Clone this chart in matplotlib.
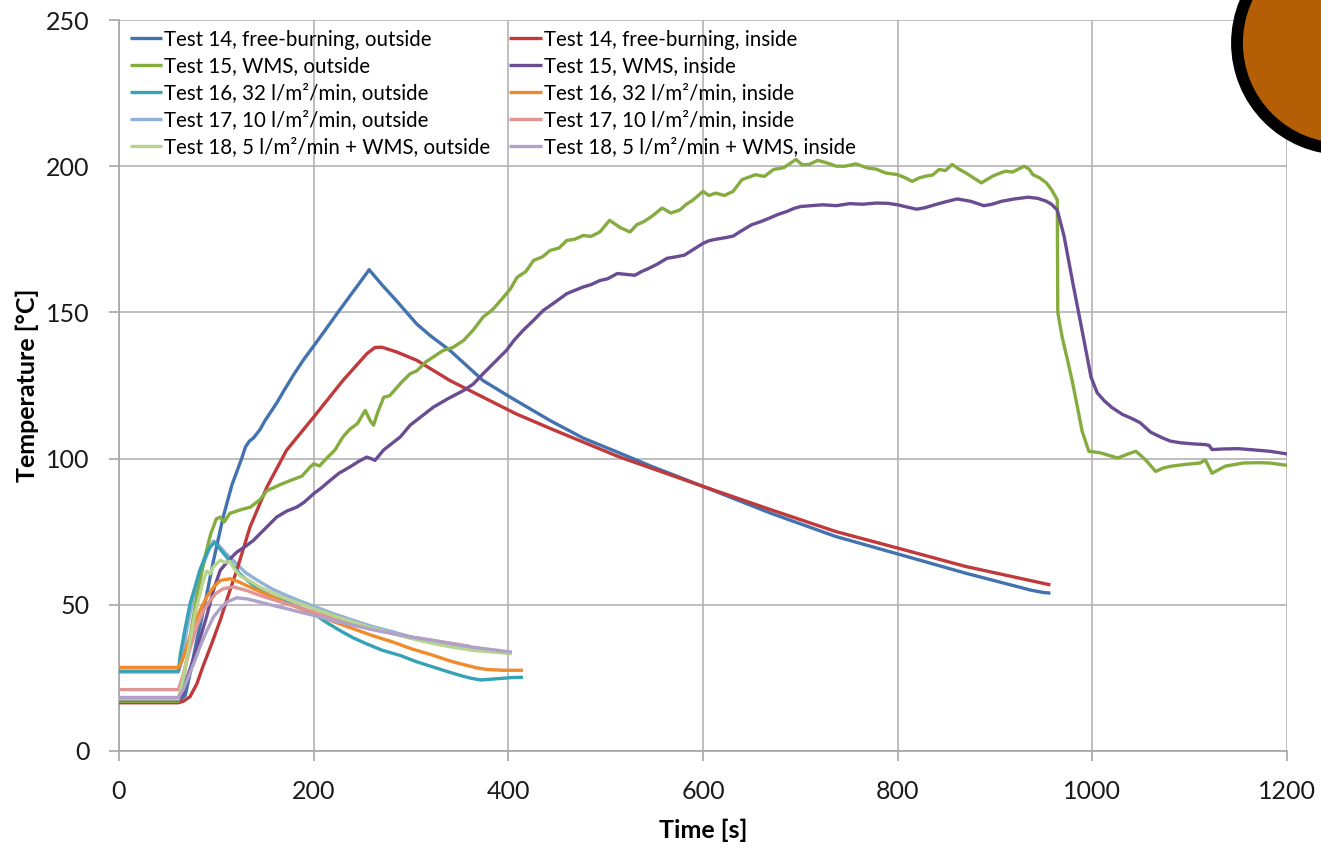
import matplotlib
matplotlib.use("Agg")
import matplotlib.pyplot as plt
from matplotlib.patches import Circle

plt.rcParams["font.family"] = ["Lato", "DejaVu Sans"]

# Test 14, free-burning
t14_out = [0, 61, 68, 74, 80, 88, 97, 107, 116, 126, 130, 134, 138, 145, 150, 162, 169, 180, 190, 200,
           212, 224, 237, 247, 257, 270, 285, 306, 320, 340, 374, 402, 443, 477, 510, 546, 600, 669, 736, 800,
           870, 937, 950, 957]
T14_out = [17, 17, 19, 28, 38, 50, 65, 80, 91, 100, 104, 106, 107, 110, 113, 119, 123, 129, 134, 138.5,
           144, 149.6, 155.5, 160, 164.6, 159.5, 154, 146, 142, 137, 126.7, 121, 113, 107, 102.5, 97.5, 90.5, 81.4, 73.4, 67.4,
           60.8, 55, 54.2, 54]
t14_in = [0, 61, 66, 73, 80, 86, 95, 104, 112, 121, 134.6, 152, 172, 200, 230, 255, 263, 270, 285, 306,
          340, 374, 408, 446, 513, 600, 669, 736, 800, 870, 957]
T14_in = [16.5, 16.5, 17, 18.6, 23, 28.7, 36.5, 44.7, 53, 61.8, 76.6, 90.3, 102.8, 114.2, 126.7, 136, 138, 138.1, 136.5, 133.6,
          126.7, 121, 115.3, 109.9, 100.7, 90.5, 82.6, 75.1, 69.4, 63.1, 56.8]

# Test 15, WMS
t15_out = [0, 61, 65, 70, 75, 80, 88, 94, 100, 104, 108, 114, 125, 135, 145, 152, 165, 176, 188, 196,
           200, 206, 213, 222, 230, 237, 245, 253, 258, 261.5, 266, 272, 278, 290, 299, 306, 315, 333, 343, 354,
           364, 374, 384, 395, 402, 409, 418, 426, 435, 443, 452, 460, 468, 477, 485, 494, 504, 515, 525, 532,
           539, 548, 558, 567, 576, 583, 590, 600, 606, 613, 622, 631, 640, 654, 663, 672.6, 683, 695.5, 702, 709,
           718, 727.7, 737, 746, 757, 769, 778, 787.4, 800, 808, 815, 822, 829, 836, 842.6, 849, 856, 863, 870, 878,
           886, 892, 897.6, 904, 911, 918, 924, 930, 935, 939, 946, 952.8, 958, 962, 964, 964.5, 969, 975, 980, 985,
           989.5, 996.4, 1008, 1018, 1026, 1036, 1044.6, 1050, 1056, 1065, 1073, 1081, 1095, 1111, 1116, 1120, 1123, 1136.5, 1155, 1170,
           1182, 1200]
T15_out = [17, 17, 22, 32, 43, 53, 66, 74, 79.4, 80, 78.3, 81.3, 82.5, 83.4, 86, 89, 91, 92.5, 94, 97,
           98.2, 97.5, 100, 103, 107.4, 110, 112, 116.5, 113, 111.4, 116, 121, 121.5, 126, 129, 130, 133, 137, 138, 140.4,
           144, 148.4, 151, 155.2, 158, 162, 164, 167.8, 169, 171.2, 172, 174.6, 175, 176.3, 176, 177.5, 181.5, 179, 177.5, 180,
           181, 183, 185.7, 184, 185, 187, 188.5, 191.4, 190, 190.8, 190, 191.4, 195.4, 197.1, 196.5, 198.9, 199.5, 202.3, 200.5, 200.6,
           202, 201.1, 200, 200, 200.8, 199.4, 199, 197.7, 197.1, 196, 194.8, 196, 196.6, 197, 198.9, 198.5, 200.6, 199, 197.7, 196,
           194.3, 195.5, 196.6, 197.5, 198.3, 198, 199, 200, 199, 197.1, 196, 194.3, 192, 189.7, 188.5, 150, 141.5, 133, 125.5, 117,
           109.4, 102.5, 102, 101, 100.2, 101.5, 102.5, 101, 99.1, 95.6, 96.8, 97.4, 98, 98.5, 99.6, 97, 95, 97.4, 98.5, 98.6,
           98.5, 97.7]
t15_in = [0, 61, 66, 70, 80, 90, 97, 104, 112, 121, 130, 138, 150, 162, 172, 182.6, 190, 200, 208, 216.8,
          226, 237, 246, 254.5, 259, 263, 272, 282, 289, 299, 311, 323, 338, 354, 364, 374, 386, 398, 406, 415,
          425, 436, 448, 460, 468, 477, 485, 494, 502, 512, 521, 530, 537, 544, 553, 563, 572, 581, 590, 600,
          606, 613, 622, 631, 640, 650, 659, 668, 677, 686, 693, 700, 711, 723, 737, 750.6, 764, 778, 790, 800,
          810, 819.6, 828, 838, 849, 861, 875, 888.5, 897, 906.8, 920, 934, 944, 952.8, 958, 964, 971, 980, 989.5, 998.7,
          1005, 1012.5, 1020, 1031, 1040, 1049, 1060, 1072, 1080, 1090.6, 1105, 1116, 1120, 1123, 1135, 1150, 1165, 1182.5, 1200]
T15_in = [17.5, 17.5, 20, 25, 35, 46, 55, 61.8, 65, 68, 70, 72, 76, 80, 82, 83.4, 85, 88, 90, 92.5,
          95, 97.1, 99, 100.5, 100, 99.4, 103, 105.6, 107.4, 111.4, 114.5, 117.6, 120.5, 123.3, 125.5, 129, 133, 137, 140.5, 143.8,
          147, 150.7, 153.5, 156.4, 157.5, 158.7, 159.5, 160.9, 161.5, 163.3, 163, 162.7, 164, 165, 166.5, 168.5, 169, 169.6, 171.5, 173.6,
          174.5, 175, 175.5, 176.1, 178, 180, 181, 182.2, 183.5, 184.5, 185.5, 186.2, 186.5, 186.8, 186.5, 187.2, 187, 187.4, 187.3, 186.8,
          186, 185.3, 185.8, 186.8, 187.8, 188.8, 188, 186.5, 187, 188, 188.8, 189.4, 189, 188, 187, 185, 176, 160, 143.8, 127.8,
          122.5, 119.7, 117.5, 115.1, 113.8, 112.3, 109, 107.1, 106, 105.4, 105, 104.8, 104.5, 103.1, 103.3, 103.4, 103, 102.5, 101.6]

# Test 16, 32 l/m2/min
t16_out = [0, 61, 63, 68, 73, 78, 83, 88, 93.5, 98.6, 104, 110.6, 117, 124, 135, 145, 158, 172, 186, 200,
           213, 227, 240, 254, 270, 288.7, 305, 323, 337, 350, 360, 371, 380, 391.5, 403, 415]
T16_out = [27.3, 27.3, 33, 42, 50.4, 56, 61.8, 66, 69.7, 71.4, 69, 66.3, 63.5, 60.6, 57.5, 54.9, 52.7, 50.9, 49, 47,
           44, 41.2, 38.8, 36.7, 34.5, 32.7, 30.6, 28.7, 27.2, 25.9, 25, 24.3, 24.5, 24.8, 25.1, 25.2]
t16_in = [0, 61, 65, 70, 76, 83, 90, 97, 104, 114, 122, 131, 145, 158.5, 172, 186, 200, 220, 240.7, 260,
          282, 300, 323, 340, 357, 368, 378, 395, 415]
T16_in = [28.6, 28.6, 31, 36, 42.4, 48, 52.6, 56, 58.3, 58.9, 58, 56.6, 54.5, 52.6, 50.5, 48.8, 47, 44.3, 41.8, 39.5,
          37.2, 35, 32.7, 30.8, 29.3, 28.4, 27.9, 27.6, 27.6]

# Test 17, 10 l/m2/min
t17_out = [0, 61, 64, 70, 76, 82, 88, 93, 97, 102, 110, 117.4, 130, 145, 158, 172, 186, 200, 220, 240.7,
           260, 282, 300, 323, 343, 364, 385, 403.5]
T17_out = [27.0, 27.0, 30, 42, 52, 59, 65, 69.5, 71.8, 70.5, 67.5, 65.2, 61, 57.8, 55.3, 53.2, 51.3, 49.5, 47, 44.7,
           42.6, 40.7, 39, 37.2, 36, 35, 34.2, 33.6]
t17_in = [0, 61, 65, 72, 79.8, 86, 93.5, 100, 107, 117.4, 130, 145, 158, 172, 186, 200, 220, 240.7, 260, 282,
          300, 323, 342, 360.6]
T17_in = [21, 21, 25, 34, 42.4, 47.5, 51.5, 54, 55.5, 56.1, 55, 53.2, 51.8, 50.4, 49, 47.5, 45.4, 43.5, 41.8, 40.1,
          39, 37.8, 36.8, 35.8]

# Test 18, 5 l/m2/min + WMS
t18_out = [0, 61, 66, 72, 78, 86.6, 90, 93.5, 97, 100, 104, 109, 114, 119, 124, 135, 145, 158, 172, 186,
           200, 220, 240.7, 260, 282, 300, 323, 343, 364, 385, 403.5]
T18_out = [17.8, 17.8, 25, 36, 47, 58.3, 61.5, 60.6, 63, 64, 65.2, 64.5, 64.8, 62, 60, 58, 56, 54, 52.1, 50.4,
           48.7, 46.3, 44.1, 42, 40.1, 38.5, 36.7, 35.5, 34.4, 33.8, 33.3]
t18_in = [0, 61, 66, 72, 78, 83, 90, 97, 104, 110.6, 121, 132, 145, 158, 172, 186, 200, 220, 240.7, 260,
          282, 300, 323, 343, 364, 385, 403.5]
T18_in = [18.3, 18.3, 21, 26, 31, 35.5, 41, 45.8, 48.7, 50.9, 52.4, 52, 50.9, 49.8, 48.7, 47.5, 46.4, 44.6, 43, 41.5,
          40.1, 39, 37.8, 36.6, 35.5, 34.6, 33.8]

series = [
    ("Test 14, free-burning, outside", t14_out, T14_out, "#4372b0", 3),
    ("Test 14, free-burning, inside", t14_in, T14_in, "#c0393b", 3),
    ("Test 15, WMS, outside", t15_out, T15_out, "#84ac3e", 3),
    ("Test 15, WMS, inside", t15_in, T15_in, "#6a4c93", 3),
    ("Test 16, 32 l/m²/min, outside", t16_out, T16_out, "#36a2b6", 4),
    ("Test 16, 32 l/m²/min, inside", t16_in, T16_in, "#f08a2c", 4),
    ("Test 17, 10 l/m²/min, outside", t17_out, T17_out, "#93b1d6", 2),
    ("Test 17, 10 l/m²/min, inside", t17_in, T17_in, "#de9593", 4),
    ("Test 18, 5 l/m²/min + WMS, outside", t18_out, T18_out, "#b8d48e", 4),
    ("Test 18, 5 l/m²/min + WMS, inside", t18_in, T18_in, "#b0a1cb", 4),
]

fig = plt.figure(figsize=(13.21, 8.48), dpi=100)
ax = fig.add_axes([119 / 1321, 97 / 848, 1168 / 1321, 731 / 848])

handles = []
for label, t, T, color, z in series:
    line, = ax.plot(t, T, color=color, lw=2.4, label=label, zorder=z,
                    solid_joinstyle="round", solid_capstyle="butt")
    handles.append(line)

ax.set_xlim(0, 1200)
ax.set_ylim(0, 250)
ax.set_xticks(range(0, 1201, 200))
ax.set_yticks(range(0, 251, 50))
ax.grid(True, color="#b3b3b3", lw=1.2, zorder=0)
ax.set_axisbelow(True)
for side in ["top", "right"]:
    ax.spines[side].set_visible(False)
for side in ["left", "bottom"]:
    ax.spines[side].set_color("#a6a6a6")
    ax.spines[side].set_linewidth(1.2)
ax.tick_params(axis="both", direction="out", length=7, width=1.2, color="#a6a6a6",
               labelsize=18, labelcolor="#1a1a1a")
ax.tick_params(axis="y", pad=14)
ax.tick_params(axis="x", pad=14)

ax.set_xlabel("Time [s]", fontsize=18, fontweight="bold", labelpad=11)
ax.set_ylabel("Temperature [°C]", fontsize=18, fontweight="bold", labelpad=5)

order = [0, 2, 4, 6, 8, 1, 3, 5, 7, 9]
ax.legend([handles[i] for i in order], [series[i][0] for i in order],
          ncol=2, loc="upper left", bbox_to_anchor=(0.009, 0.987), frameon=False,
          fontsize=14.8, handlelength=1.6, handletextpad=0.1, columnspacing=0.9,
          labelspacing=0.34, borderpad=0, borderaxespad=0)

# orange badge in the top right corner
badge = Circle((13.43, 8.05), 1.06, transform=fig.dpi_scale_trans,
               facecolor="#b45f06", edgecolor="black", lw=8.5, zorder=10, clip_on=False)
fig.add_artist(badge)

fig.savefig("out.png", dpi=100)
